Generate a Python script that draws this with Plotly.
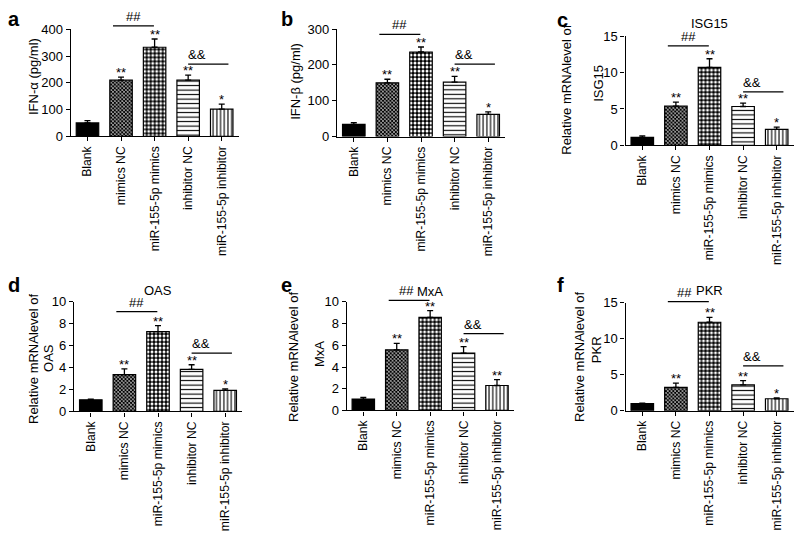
import plotly.graph_objects as go

W, H = 800, 539

categories = ["Blank", "mimics NC", "miR-155-5p mimics", "inhibitor NC", "miR-155-5p inhibitor"]

ifn_a = [50, 210, 333, 210, 102]
ifn_a_err = [9, 11, 31, 19, 18]
ifn_b = [34, 150, 236, 152, 62]
ifn_b_err = [5, 10, 14, 16, 7]
isg15 = [1.1, 5.38, 10.7, 5.34, 2.2]
isg15_err = [0.2, 0.57, 1.2, 0.46, 0.3]
oas = [1.06, 3.35, 7.28, 3.84, 1.93]
oas_err = [0.05, 0.53, 0.55, 0.42, 0.12]
mxa = [1.05, 5.58, 8.57, 5.28, 2.3]
mxa_err = [0.15, 0.6, 0.62, 0.6, 0.54]
pkr = [1.0, 3.25, 12.3, 3.6, 1.67]
pkr_err = [0.07, 0.58, 0.67, 0.6, 0.13]

sig_a = ["", "**", "**", "**", "*"]
sig_b = ["", "**", "**", "**", "*"]
sig_c = ["", "**", "**", "**", "*"]
sig_d = ["", "**", "**", "**", "*"]
sig_e = ["", "**", "**", "**", "**"]
sig_f = ["", "**", "**", "**", "*"]

FONT = "Arial, Liberation Sans, Helvetica, sans-serif"


def px(x):
    return x / W


def py(y):
    return 1 - y / H


styles = [
    dict(color="black", pattern=None),
    dict(color="white", pattern=dict(shape="x", size=2.6, solidity=0.7, fgcolor="black",
                                     bgcolor="white", fillmode="replace")),
    dict(color="black", pattern=dict(shape=".", size=4, solidity=0.45, fgcolor="white",
                                     bgcolor="black", fillmode="replace")),
    dict(color="white", pattern=dict(shape="-", size=4.5, solidity=0.25, fgcolor="black",
                                     bgcolor="white", fillmode="replace")),
    dict(color="white", pattern=dict(shape="|", size=3.7, solidity=0.3, fgcolor="black",
                                     bgcolor="white", fillmode="replace")),
]

panels = [
    dict(letter="a", v=ifn_a, e=ifn_a_err, s=sig_a, ymax=400, dt=100,
         xd=(70.7, 238.5), yd=(133, 23), hh=413, aa=270, lpos=(6, 26), hx=0,
         ytitle=[("IFN-α (pg/ml)", 34, 72)], title=None),
    dict(letter="b", v=ifn_b, e=ifn_b_err, s=sig_b, ymax=300, dt=100,
         xd=(337, 505), yd=(133.3, 22.7), hh=285, aa=202, lpos=(279, 26), hx=0,
         ytitle=[("IFN-β (pg/ml)", 296, 77)], title=None),
    dict(letter="c", v=isg15, e=isg15_err, s=sig_c, ymax=15, dt=5,
         xd=(625.5, 793.5), yd=(142.3, 30), hh=13.66, aa=7.34, lpos=(555, 27), hx=0,
         ytitle=[("Relative mRNAlevel of", 567, 85), ("ISG15", 599, 79)], title=("ISG15", 17)),
    dict(letter="d", v=oas, e=oas_err, s=sig_d, ymax=10, dt=2,
         xd=(74, 242), yd=(416, 303.3), hh=9.11, aa=5.32, lpos=(6, 299), hx=0,
         ytitle=[("Relative mRNAlevel of", 34, 362), ("OAS", 49, 361)], title=("OAS", 292)),
    dict(letter="e", v=mxa, e=mxa_err, s=sig_e, ymax=10, dt=2,
         xd=(346.6, 513.7), yd=(415, 303.3), hh=10.14, aa=7.07, lpos=(279, 299), hx=-3,
         ytitle=[("Relative mRNAlevel of", 294, 360), ("MxA", 319, 357)], title=("MxA", 293)),
    dict(letter="f", v=pkr, e=pkr_err, s=sig_f, ymax=15, dt=5,
         xd=(625.5, 793.5), yd=(415.3, 304.3), hh=15.18, aa=6.23, lpos=(555, 299), hx=-4,
         ytitle=[("Relative mRNAlevel of", 580, 360), ("PKR", 596, 353)], title=("PKR", 292)),
]

fig = go.Figure()
annotations = []
shapes = []
layout = {}

for i, p in enumerate(panels):
    n = i + 1
    xa = "x" if n == 1 else f"x{n}"
    ya = "y" if n == 1 else f"y{n}"
    xkey = "xaxis" if n == 1 else f"xaxis{n}"
    ykey = "yaxis" if n == 1 else f"yaxis{n}"

    for k in range(5):
        st = styles[k]
        marker = dict(color=st["color"], line=dict(color="black", width=1.2))
        if st["pattern"]:
            marker["pattern"] = st["pattern"]
        fig.add_trace(go.Bar(
            x=[k], y=[p["v"][k]], marker=marker,
            error_y=dict(type="data", array=[p["e"][k]], arrayminus=[0], symmetric=False,
                         color="black", thickness=1.3, width=3),
            width=0.67, xaxis=xa, yaxis=ya, showlegend=False,
        ))

    layout[xkey] = dict(
        domain=[px(p["xd"][0]), px(p["xd"][1])], anchor=ya,
        range=[-0.5, 4.5], tickmode="array", tickvals=list(range(5)), ticktext=categories,
        tickangle=-90, showline=True, linecolor="black", linewidth=1.2,
        ticks="outside", ticklen=4, tickwidth=1.2, tickcolor="black", ticklabelstandoff=0,
        tickfont=dict(family=FONT, size=12.2, color="black"), showgrid=False, zeroline=False,
    )
    layout[ykey] = dict(
        domain=[py(p["yd"][0]), py(p["yd"][1])], anchor=xa,
        range=[0, p["ymax"]], dtick=p["dt"], tick0=0, showline=True, linecolor="black",
        linewidth=1.2, ticks="outside", ticklen=4, tickwidth=1.2, tickcolor="black",
        tickfont=dict(family=FONT, size=13, color="black"), showgrid=False, zeroline=False,
    )

    for k in range(5):
        if p["s"][k]:
            annotations.append(dict(
                x=k, y=p["v"][k] + p["e"][k], xref=xa, yref=ya, text=p["s"][k],
                showarrow=False, yanchor="bottom", yshift=-5,
                font=dict(family=FONT, size=13, color="black")))

    for (c0, c1, yv, label, xs) in [(0.76, 1.98, p["hh"], "##", p["hx"]),
                                     (3.0, 4.2, p["aa"], "&&", 0)]:
        shapes.append(dict(
            type="line", xref=f"{xa} domain", yref=f"{ya} domain",
            x0=(c0 + 0.5) / 5, x1=(c1 + 0.5) / 5, y0=yv / p["ymax"], y1=yv / p["ymax"],
            line=dict(color="black", width=1.2)))
        annotations.append(dict(
            x=((c0 + c1) / 2 + 0.5) / 5, y=yv / p["ymax"], xref=f"{xa} domain", yref=f"{ya} domain",
            text=label, showarrow=False, yanchor="bottom", yshift=0, xshift=xs,
            font=dict(family=FONT, size=13, color="black")))

    annotations.append(dict(
        x=px(p["lpos"][0]), y=py(p["lpos"][1]), xref="paper", yref="paper",
        text=f"<b>{p['letter']}</b>", showarrow=False, xanchor="left", yanchor="bottom",
        font=dict(family=FONT, size=20, color="black")))

    for (t, cx, cy) in p["ytitle"]:
        annotations.append(dict(
            x=px(cx), y=py(cy), xref="paper", yref="paper", text=t, textangle=-90,
            showarrow=False, xanchor="center", yanchor="middle",
            font=dict(family=FONT, size=13, color="black")))

    if p["title"]:
        annotations.append(dict(
            x=(p["xd"][0] + p["xd"][1]) / 2 / W, y=py(p["title"][1]), xref="paper", yref="paper",
            text=p["title"][0], showarrow=False, xanchor="center", yanchor="middle",
            font=dict(family=FONT, size=13, color="black")))

fig.update_layout(
    width=W, height=H, margin=dict(l=0, r=0, t=0, b=0),
    paper_bgcolor="white", plot_bgcolor="white", barmode="overlay",
    annotations=annotations, shapes=shapes,
    font=dict(family=FONT, color="black"),
    **layout,
)

fig.write_html("out.html", config={"displayModeBar": False},
               post_script="document.body.style.margin='0';document.body.style.overflow='hidden';")
